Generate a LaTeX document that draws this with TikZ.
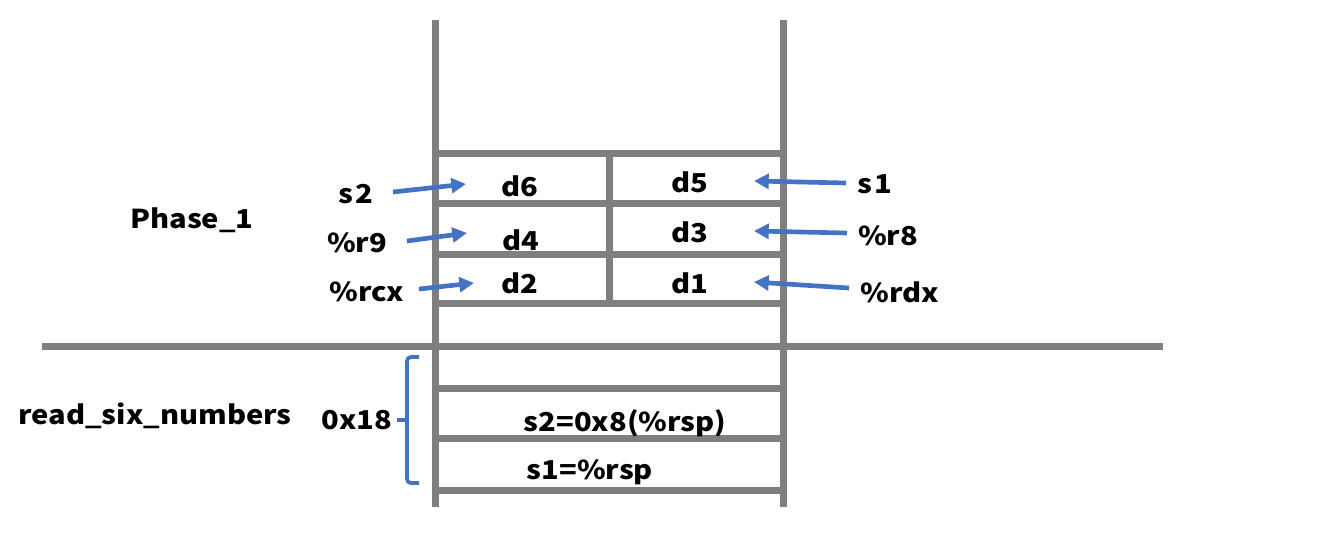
\documentclass[tikz,border=0pt]{standalone}
\usepackage{fontspec}
\usetikzlibrary{arrows.meta}
\newfontfamily\lblfont{Noto Sans CJK SC}[FakeStretch=1.12]
\definecolor{gridgray}{HTML}{7F7F7F}
\definecolor{arrblue}{HTML}{4472C4}
\begin{document}
\begin{tikzpicture}[x=0.75pt,y=-0.75pt,
  wall/.style={draw=gridgray,line width=5.25pt},
  arr/.style={draw=arrblue,line width=3.5pt,-{Triangle[length=11pt,width=11pt]}},
  bracepath/.style={draw=arrblue,line width=2.8pt},
  lbl/.style={font=\lblfont\bfseries\fontsize{19.5pt}{22pt}\selectfont,inner sep=0pt,anchor=center}]
\useasboundingbox (0,0) rectangle (1326,536);
% stack walls
\draw[wall] (435,20) -- (435,507);
\draw[wall] (783,20) -- (783,507);
\foreach \y in {153,203,254,303,388,438,490} \draw[wall] (435,\y) -- (783,\y);
\draw[wall] (609,153) -- (609,303);
\draw[wall] (42,346) -- (1163,346);
% labels
\node[lbl] (phase) at (192,220) {Phase\_1};
\node[lbl] (s2) at (356,194) {s\hspace{2pt}2};
\node[lbl] (r9) at (357,243) {\%r9};
\node[lbl] (rcx) at (367,292) {\%rcx};
\node[lbl] (d6) at (520,186) {d6};
\node[lbl] (d5) at (690,182) {d5};
\node[lbl] (d4) at (521,240) {d4};
\node[lbl] (d3) at (690,232) {d3};
\node[lbl] (d2) at (520,283) {d2};
\node[lbl] (d1) at (690,283) {d1};
\node[lbl] (s1) at (875,184) {s\hspace{2pt}1};
\node[lbl] (r8) at (888,236) {\%r8};
\node[lbl] (rdx) at (900,292) {\%rdx};
\node[lbl] (rsn) at (155,416) {read\_six\_numbers};
\node[lbl] (hex) at (357,420) {0x18};
\node[lbl] (s2rsp) at (625,423) {s2=0x8(\%rsp)};
\node[lbl] (s1rsp) at (590,472) {s1=\%rsp};
% arrow endpoints
\coordinate (a6s) at (393,192); \coordinate (a6e) at (466,184);
\coordinate (a4s) at (407,241); \coordinate (a4e) at (467,233);
\coordinate (a2s) at (419,289); \coordinate (a2e) at (474,283);
\coordinate (a5s) at (846,183); \coordinate (a5e) at (754,181);
\coordinate (a3s) at (847,233); \coordinate (a3e) at (754,231);
\coordinate (a1s) at (849,288); \coordinate (a1e) at (754,282);
\draw[arr] (a6s) -- (a6e);
\draw[arr] (a4s) -- (a4e);
\draw[arr] (a2s) -- (a2e);
\draw[arr] (a5s) -- (a5e);
\draw[arr] (a3s) -- (a3e);
\draw[arr] (a1s) -- (a1e);
% brace
\coordinate (bt) at (419,357); \coordinate (bb) at (419,483); \coordinate (bm) at (397,420);
\draw[bracepath,rounded corners=3pt] (bt) -- (407,357) -- (407,483) -- (bb);
\draw[bracepath] (407,420) -- (bm);
\end{tikzpicture}
\end{document}
